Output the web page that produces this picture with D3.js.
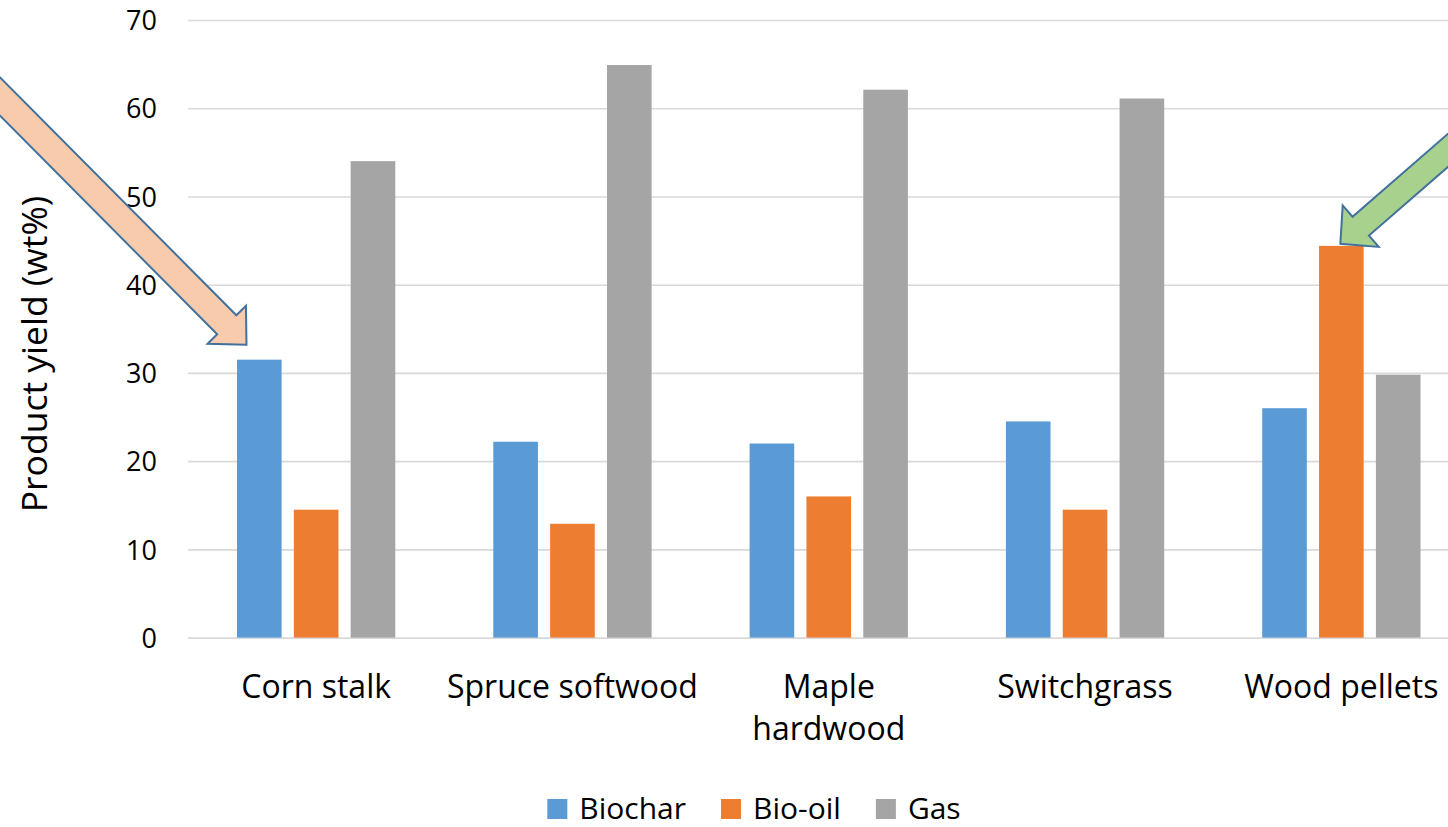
<!DOCTYPE html>
<html>
<head>
<meta charset="utf-8">
<script src="https://cdn.jsdelivr.net/npm/d3@7"></script>
<style>
  body { margin: 0; background: #fff; }
  svg { display: block; }
  text { font-family: "Open Sans", sans-serif; fill: #000; }
</style>
</head>
<body>
<svg id="chart" width="1448" height="827"></svg>
<script>
// Product yields (wt%) per feedstock
const categories = ["Corn stalk", "Spruce softwood", "Maple hardwood", "Switchgrass", "Wood pellets"];
const categoryLines = [["Corn stalk"], ["Spruce softwood"], ["Maple", "hardwood"], ["Switchgrass"], ["Wood pellets"]];
const seriesNames = ["Biochar", "Bio-oil", "Gas"];
const biochar = [31.5, 22.2, 22.0, 24.5, 26.0];
const bioOil = [14.5, 12.9, 16.0, 14.5, 44.4];
const gas = [54.0, 64.9, 62.1, 61.1, 29.8];
const yTicks = [0, 10, 20, 30, 40, 50, 60, 70];
const seriesColors = ["#5b9bd5", "#ed7d31", "#a5a5a5"];

const seriesValues = [biochar, bioOil, gas];
const rows = categories.map((c, i) => ({
  category: c,
  values: seriesNames.map((s, j) => ({ series: s, value: seriesValues[j][i] }))
}));

const svg = d3.select("#chart");
const plot = { left: 188, right: 1469.5, top: 20, bottom: 637.6 };

const x0 = d3.scaleBand().domain(categories).range([plot.left, plot.right]).padding(0);
const x1 = d3.scaleBand().domain(seriesNames).range([0, x0.bandwidth()])
  .paddingInner(0.215).paddingOuter(0.862);
const y = d3.scaleLinear().domain([0, 70]).range([plot.bottom, plot.top]);
const color = d3.scaleOrdinal().domain(seriesNames).range(seriesColors);

// Gridlines and value labels
const yAxis = svg.append("g")
  .attr("transform", `translate(${plot.left},0)`)
  .call(d3.axisLeft(y).tickValues(yTicks).tickSize(-(plot.right - plot.left)).tickPadding(31));
yAxis.select(".domain").remove();
yAxis.selectAll(".tick line").attr("stroke", "#d9d9d9").attr("stroke-width", 1.6);
yAxis.selectAll(".tick text")
  .attr("font-size", 27)
  .attr("font-family", "Open Sans, sans-serif")
  .attr("fill", "#000")
  .attr("dy", "0.36em");

// Bars
const groups = svg.append("g").selectAll("g")
  .data(rows).join("g")
  .attr("transform", d => `translate(${x0(d.category)},0)`);
groups.selectAll("rect")
  .data(d => d.values).join("rect")
  .attr("x", d => x1(d.series))
  .attr("width", x1.bandwidth())
  .attr("y", d => y(d.value))
  .attr("height", d => y(0) - y(d.value))
  .attr("fill", d => color(d.series));

// Category labels
const xLabels = svg.append("g").selectAll("text")
  .data(categories).join("text")
  .attr("x", d => x0(d) + x0.bandwidth() / 2)
  .attr("y", 698)
  .attr("text-anchor", "middle")
  .attr("font-size", 32);
xLabels.each(function (d, i) {
  const t = d3.select(this);
  categoryLines[i].forEach((line, k) => {
    t.append("tspan")
      .attr("x", x0(d) + x0.bandwidth() / 2)
      .attr("dy", k === 0 ? 0 : 42)
      .text(line);
  });
});

// Axis title
svg.append("text")
  .attr("transform", "translate(47,354) rotate(-90)")
  .attr("text-anchor", "middle")
  .attr("font-size", 35.5)
  .text("Product yield (wt%)");

// Block arrows pointing at highlighted bars
function arrowPath(tip, dir, len, shaft, headW, headL) {
  const n = Math.hypot(dir[0], dir[1]);
  const u = [dir[0] / n, dir[1] / n];
  const p = [-u[1], u[0]];
  const base = [tip[0] - u[0] * headL, tip[1] - u[1] * headL];
  const tail = [tip[0] - u[0] * len, tip[1] - u[1] * len];
  const pt = (o, s) => [o[0] + p[0] * s, o[1] + p[1] * s];
  const pts = [pt(tail, shaft / 2), pt(base, shaft / 2), pt(base, headW / 2), tip,
               pt(base, -headW / 2), pt(base, -shaft / 2), pt(tail, -shaft / 2)];
  return "M" + pts.map(q => q.join(",")).join("L") + "Z";
}

const cornTip = [x0("Corn stalk") + x1("Biochar") + 9.5, y(biochar[0]) - 15];
svg.append("path")
  .attr("d", arrowPath(cornTip, [1, 1.007], 420, 27, 54, 28))
  .attr("fill", "#f8cbad")
  .attr("stroke", "#41719c")
  .attr("stroke-width", 2)
  .attr("stroke-linejoin", "miter");

const pelletTip = [x0("Wood pellets") + x1("Bio-oil") + x1.bandwidth() / 2 - 1, y(bioOil[4]) - 2];
svg.append("path")
  .attr("d", arrowPath(pelletTip, [-0.755, 0.656], 260, 25, 55, 27))
  .attr("fill", "#a9d18e")
  .attr("stroke", "#41719c")
  .attr("stroke-width", 2)
  .attr("stroke-linejoin", "miter");

// Legend
const legend = svg.append("g");
const items = legend.selectAll("g").data(seriesNames).join("g");
items.append("rect")
  .attr("width", 20).attr("height", 20)
  .attr("y", 799)
  .attr("fill", d => color(d));
items.append("text")
  .attr("x", 32)
  .attr("y", 819)
  .attr("font-size", 30)
  .text(d => d);
let cursor = 0;
const offsets = [];
items.each(function () {
  const w = 32 + d3.select(this).select("text").node().getComputedTextLength();
  offsets.push(cursor);
  cursor += w + 35;
});
const totalW = cursor - 35;
const legendCenter = 754;
items.attr("transform", (d, i) => `translate(${legendCenter - totalW / 2 + offsets[i]},0)`);
</script>
</body>
</html>
